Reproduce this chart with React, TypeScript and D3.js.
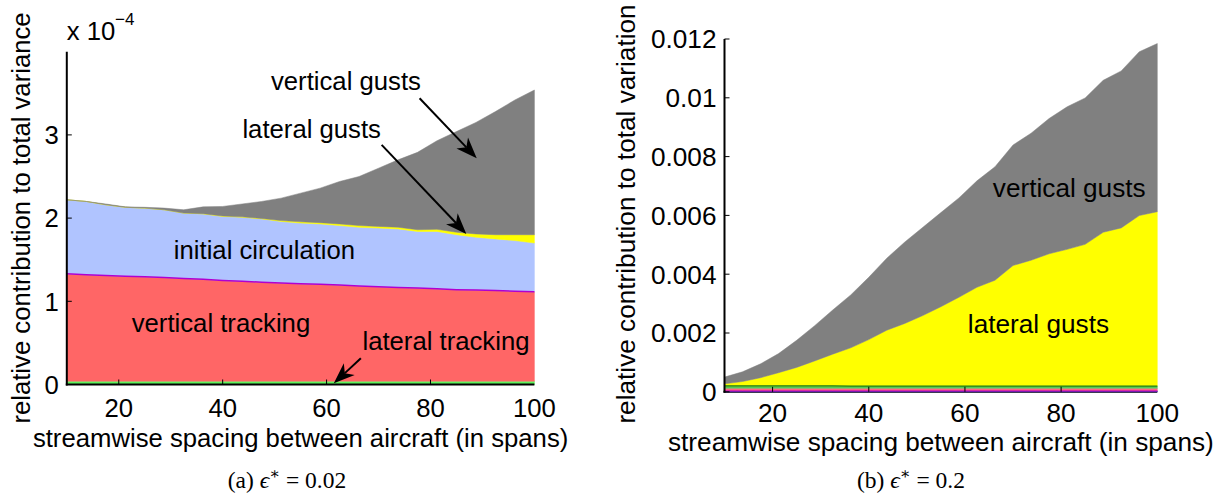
import * as d3 from 'd3';

// streamwise spacing (in spans), shared by both panels
const spacing = [10, 13.75, 17.5, 21.25, 25, 28.75, 32.5, 36.25, 40, 43.75, 47.5, 51.25, 55,
  58.75, 62.5, 66.25, 70, 73.75, 77.5, 81.25, 85, 88.75, 92.5, 96.25, 100];

// panel (a), values in units of 1e-4
const aLatTrack = [0.04, 0.04, 0.04, 0.04, 0.04, 0.04, 0.04, 0.04, 0.04, 0.04, 0.04, 0.04, 0.04,
  0.04, 0.04, 0.04, 0.04, 0.04, 0.04, 0.04, 0.04, 0.04, 0.04, 0.04, 0.04];
const aVertTrack = [1.29, 1.28, 1.27, 1.26, 1.255, 1.245, 1.235, 1.225, 1.21, 1.2, 1.19, 1.18, 1.17,
  1.165, 1.155, 1.145, 1.135, 1.125, 1.12, 1.11, 1.1, 1.095, 1.09, 1.08, 1.075];
const aInitCirc = [0.89, 0.88, 0.85, 0.83, 0.825, 0.815, 0.785, 0.785, 0.77, 0.77, 0.76, 0.74, 0.73,
  0.725, 0.715, 0.705, 0.705, 0.705, 0.68, 0.69, 0.66, 0.635, 0.62, 0.61, 0.585];
const aLatGust = [0, 0, 0, 0, 0, 0, 0, 0.003, 0.005, 0.005, 0.005, 0.01, 0.015,
  0.015, 0.02, 0.02, 0.02, 0.02, 0.02, 0.025, 0.03, 0.04, 0.05, 0.07, 0.1];
const aVertGust = [0, 0, 0.01, 0.005, 0.01, 0.02, 0.04, 0.082, 0.115, 0.155, 0.205, 0.27, 0.345,
  0.415, 0.51, 0.59, 0.7, 0.81, 0.93, 1.065, 1.21, 1.34, 1.48, 1.62, 1.74];

// panel (b)
const bInitCirc = [0.00003, 0.00003, 0.00003, 0.00003, 0.00003, 0.00003, 0.00003, 0.00003,
  0.00003, 0.00003, 0.00003, 0.00003, 0.00003, 0.00003, 0.00003, 0.00003, 0.00003,
  0.00003, 0.00003, 0.00003, 0.00003, 0.00003, 0.00003, 0.00003, 0.00003];
const bVertTrack = [0.00009, 0.00009, 0.00009, 0.00009, 0.00009, 0.00009, 0.00009, 0.00009, 0.00009,
  0.00009, 0.00009, 0.00009, 0.00009, 0.00009, 0.00009, 0.00009, 0.00009, 0.00009, 0.00009,
  0.00009, 0.00009, 0.00009, 0.00009, 0.00009, 0.00009];
const bLatTrack = [0.00008, 0.00008, 0.00008, 0.00008, 0.00008, 0.00008, 0.00008, 0.000075,
  0.000075, 0.000075, 0.000075, 0.000075, 0.000075, 0.000075, 0.000075, 0.000075, 0.000075, 0.000075,
  0.000075, 0.000075, 0.000075, 0.000075, 0.000075, 0.000075, 0.000075];
const bLatGust = [0.00007, 0.00015, 0.00028, 0.00045, 0.00063, 0.00085, 0.00108, 0.0013, 0.00158,
  0.0019, 0.00213, 0.0024, 0.0027, 0.00302, 0.00336, 0.0036, 0.0041, 0.00428, 0.0045, 0.00465,
  0.00482, 0.00523, 0.00538, 0.0058, 0.00593];
const bVertGust = [0.00023, 0.00033, 0.00047, 0.00065, 0.00092, 0.0012, 0.0015, 0.0018, 0.00212,
  0.00245, 0.00277, 0.003, 0.0032, 0.00338, 0.00362, 0.00386, 0.0041, 0.00432, 0.0046, 0.00485,
  0.00498, 0.00517, 0.00534, 0.00557, 0.00572];

const xTicks = [20, 40, 60, 80, 100];
const aYTicks = [0, 1, 2, 3];
const aYTickLabels = ['0', '1', '2', '3'];
const bYTicks = [0, 0.002, 0.004, 0.006, 0.008, 0.01, 0.012];
const bYTickLabels = ['0', '0.002', '0.004', '0.006', '0.008', '0.01', '0.012'];

const SANS = '"Liberation Sans", Arial, Helvetica, sans-serif';
const SERIF = '"Liberation Serif", "DejaVu Serif", serif';

type Layer = { key: string; values: number[]; fill: string; edge?: string; edgeW?: number };
type Note = { text: string; x: number; y: number };
type ArrowSpec = { x1: number; y1: number; x2: number; y2: number };

const aLayers: Layer[] = [
  { key: 'latTrack', values: aLatTrack, fill: '#5cf25c' },
  { key: 'vertTrack', values: aVertTrack, fill: '#ff6666', edge: '#b000d0', edgeW: 1.5 },
  { key: 'initCirc', values: aInitCirc, fill: '#b0c4ff' },
  { key: 'latGust', values: aLatGust, fill: '#ffff00' },
  { key: 'vertGust', values: aVertGust, fill: '#808080' },
];
const bLayers: Layer[] = [
  { key: 'initCirc', values: bInitCirc, fill: '#2222cc', edge: '#c000c0', edgeW: 1 },
  { key: 'vertTrack', values: bVertTrack, fill: '#ff6680' },
  { key: 'latTrack', values: bLatTrack, fill: '#55cc55', edge: '#1a7a1a', edgeW: 1.2 },
  { key: 'latGust', values: bLatGust, fill: '#ffff00' },
  { key: 'vertGust', values: bVertGust, fill: '#808080' },
];

const aNotes: Note[] = [
  { text: 'vertical gusts', x: 49.3, y: 3.54 },
  { text: 'lateral gusts', x: 43.8, y: 2.96 },
  { text: 'initial circulation', x: 30.6, y: 1.505 },
  { text: 'vertical tracking', x: 22.5, y: 0.635 },
  { text: 'lateral tracking', x: 66.9, y: 0.415 },
];
const aArrows: ArrowSpec[] = [
  { x1: 77.9, y1: 3.44, x2: 88.9, y2: 2.72 },
  { x1: 70.6, y1: 2.88, x2: 86.9, y2: 1.81 },
  { x1: 66.6, y1: 0.315, x2: 61.4, y2: 0.014 },
];
const bNotes: Note[] = [
  { text: 'vertical gusts', x: 65.8, y: 0.00664 },
  { text: 'lateral gusts', x: 60.6, y: 0.00199 },
];

const Arrow = ({ x1, y1, x2, y2 }: ArrowSpec) => {
  const dx = x2 - x1, dy = y2 - y1;
  const len = Math.hypot(dx, dy);
  const ux = dx / len, uy = dy / len;
  const px = -uy, py = ux;
  const hl = 21, hw = 8, notch = 6;
  const bx = x2 - ux * hl, by = y2 - uy * hl;
  const nx = x2 - ux * (hl - notch), ny = y2 - uy * (hl - notch);
  const head = `M${x2},${y2}L${bx + px * hw},${by + py * hw}L${nx},${ny}L${bx - px * hw},${by - py * hw}Z`;
  return (
    <g>
      <line x1={x1} y1={y1} x2={nx} y2={ny} stroke="#000" strokeWidth={2} />
      <path d={head} fill="#000" />
    </g>
  );
};

interface PanelProps {
  layers: Layer[];
  xRange: [number, number];
  yRange: [number, number];
  yMax: number;
  yTicks: number[];
  yTickLabels: string[];
  yLabel: string;
  yLabelX: number;
  yLabelY: number;
  xTickY: number;
  xLabelY: number;
  fontSize: number;
  notes: Note[];
  arrows: ArrowSpec[];
  axisUnder?: boolean;
}

const Panel = (p: PanelProps) => {
  const x = d3.scaleLinear().domain([10, 100]).range(p.xRange);
  const y = d3.scaleLinear().domain([0, p.yMax]).range(p.yRange);

  const rows = spacing.map((s, i) => {
    const r: Record<string, number> = { s };
    p.layers.forEach(l => { r[l.key] = l.values[i]; });
    return r;
  });
  const stacked = d3.stack<Record<string, number>>().keys(p.layers.map(l => l.key))(rows);

  const area = d3.area<d3.SeriesPoint<Record<string, number>>>()
    .x(d => x(d.data.s))
    .y0(d => y(d[0]))
    .y1(d => y(d[1]));
  const edge = d3.line<d3.SeriesPoint<Record<string, number>>>()
    .x(d => x(d.data.s))
    .y(d => y(d[1]));

  const [x0, x1] = p.xRange;
  const [yb, yt] = p.yRange;
  const fs = p.fontSize;

  const bottomAxis = <line x1={x0 - 1} x2={x1} y1={yb} y2={yb} stroke="#000" strokeWidth={2} />;

  return (
    <g fontFamily={SANS} fontSize={fs}>
      {p.axisUnder && bottomAxis}
      {stacked.map((s, i) => (
        <path key={s.key} d={area(s) ?? ''} fill={p.layers[i].fill} stroke={p.layers[i].fill} strokeWidth={0.5} />
      ))}
      {stacked.map((s, i) => p.layers[i].edge ? (
        <path key={'e' + s.key} d={edge(s) ?? ''} fill="none" stroke={p.layers[i].edge} strokeWidth={p.layers[i].edgeW} />
      ) : null)}

      {/* axes */}
      <line x1={x0} x2={x0} y1={yt} y2={yb + 1} stroke="#000" strokeWidth={2} />
      {!p.axisUnder && bottomAxis}
      {p.yTicks.map((t, i) => (
        <g key={'y' + t}>
          <line x1={x0} x2={x0 + 5} y1={y(t)} y2={y(t)} stroke="#000" strokeWidth={1} />
          <text x={x0 - 8} y={y(t) + fs * 0.36} textAnchor="end">{p.yTickLabels[i]}</text>
        </g>
      ))}
      {xTicks.map(t => (
        <g key={'x' + t}>
          {t < 100 && <line x1={x(t)} x2={x(t)} y1={yb} y2={yb - 5} stroke="#000" strokeWidth={1} />}
          <text x={x(t)} y={p.xTickY} textAnchor="middle">{t}</text>
        </g>
      ))}
      <text x={(x0 + x1) / 2} y={p.xLabelY} textAnchor="middle">streamwise spacing between aircraft (in spans)</text>
      <text transform={`translate(${p.yLabelX},${p.yLabelY}) rotate(-90)`} textAnchor="middle">{p.yLabel}</text>

      {p.notes.map(n => (
        <text key={n.text} x={x(n.x)} y={y(n.y)}>{n.text}</text>
      ))}
      {p.arrows.map((a, i) => (
        <Arrow key={i} x1={x(a.x1)} y1={y(a.y1)} x2={x(a.x2)} y2={y(a.y2)} />
      ))}
    </g>
  );
};

const Caption = ({ cx, label, value }: { cx: number; label: string; value: string }) => (
  <text x={cx} y={488} textAnchor="middle" fontFamily={SERIF} fontSize={23.5}>
    {`(${label}) `}
    <tspan fontStyle="italic">ϵ</tspan>
    <tspan fontSize={16} dy={-9}>∗</tspan>
    <tspan dy={9}>{` = ${value}`}</tspan>
  </text>
);

export default function App() {
  return (
    <svg width={1219} height={494} style={{ position: 'absolute', left: 0, top: 0, background: '#fff' }}>
      <Panel
        layers={aLayers}
        xRange={[66.8, 534.4]}
        yRange={[384.5, 51.7]}
        yMax={4}
        yTicks={aYTicks}
        yTickLabels={aYTickLabels}
        yLabel="relative contribution to total variance"
        yLabelX={29.5}
        yLabelY={218}
        xTickY={417}
        xLabelY={447}
        fontSize={25.7}
        notes={aNotes}
        arrows={aArrows}
      />
      <text x={66.8} y={40} fontFamily={SANS} fontSize={25.7}>x 10</text>
      <text x={115} y={25} fontFamily={SANS} fontSize={17}>−4</text>

      <Panel
        layers={bLayers}
        xRange={[724.5, 1157.3]}
        yRange={[391.8, 39]}
        yMax={0.012}
        yTicks={bYTicks}
        yTickLabels={bYTickLabels}
        yLabel="relative contribution to total variation"
        yLabelX={634.5}
        yLabelY={214}
        xTickY={421.7}
        xLabelY={451}
        fontSize={26.2}
        notes={bNotes}
        arrows={[]}
        axisUnder
      />

      <Caption cx={287} label="a" value="0.02" />
      <Caption cx={911} label="b" value="0.2" />
    </svg>
  );
}
